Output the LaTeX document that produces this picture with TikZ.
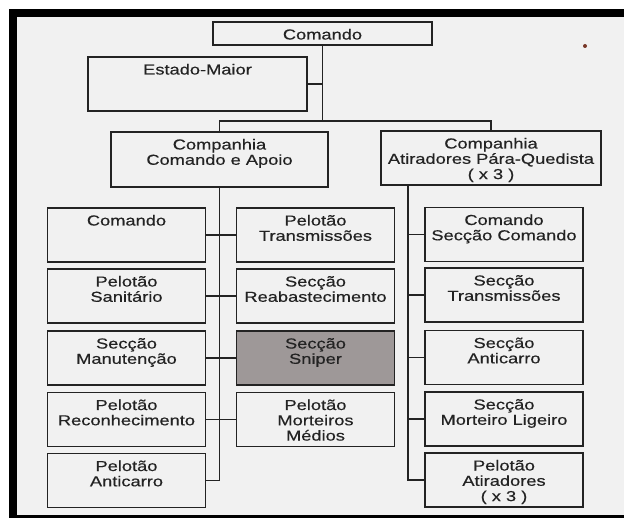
\documentclass[tikz,border=0pt]{standalone}
\usepackage{fontspec}
\setmainfont[FakeStretch=1.26,FakeBold=0.4]{Liberation Sans}
\definecolor{ink}{RGB}{35,35,35}
\definecolor{paper}{RGB}{241,241,241}
\definecolor{sniperfill}{RGB}{158,152,152}
\definecolor{dotred}{RGB}{120,55,40}
\newcommand{\orgtext}[5]{\parbox[c][#2][t]{#1}{\centering\fontsize{14.5pt}{#3}\selectfont\vspace*{#4}\rule{0pt}{11pt}#5}}
\newcommand{\rowtxt}[1]{\orgtext{158pt}{54pt}{15.3pt}{6.5pt}{#1}}
\newcommand{\toptxt}[3]{\orgtext{#1}{#2}{15.3pt}{6.5pt}{#3}}
\tikzset{
  orgbox/.style={draw=ink,line width=1.4pt,inner sep=0pt,outer sep=0pt,text=ink},
  link/.style={draw=ink,line width=1.2pt},
}
\begin{document}
\begin{tikzpicture}[x=1pt,y=-1pt]
\useasboundingbox (0,0) rectangle (624,518);
\fill[white] (0,0) rectangle (624,518);
\fill[paper] (17,17) rectangle (624,515);
\fill[black] (9,9) rectangle (624,17);
\fill[black] (9,9) rectangle (17,518);
\fill[black] (9,515) rectangle (624,518);
\fill[dotred] (585,46) circle (2pt);

% top levels
\node[orgbox] (cmd) at (322.5,33.5) {\toptxt{219pt}{23pt}{Comando}};
\node[orgbox] (em) at (197.5,84) {\toptxt{219pt}{54pt}{Estado-Maior}};
\node[orgbox] (cca) at (219.5,159.5) {\toptxt{217pt}{55pt}{Companhia\\Comando e Apoio}};
\node[orgbox] (cap) at (491,158) {\toptxt{220pt}{54pt}{Companhia\\Atiradores Pára-Quedista\\( x 3 )}};

% left column
\node[orgbox] (lc1) at (126.5,235) {\rowtxt{Comando}};
\node[orgbox] (lc2) at (126.5,296) {\rowtxt{Pelotão\\Sanitário}};
\node[orgbox] (lc3) at (126.5,358) {\rowtxt{Secção\\Manutenção}};
\node[orgbox] (lc4) at (126.5,419.5) {\rowtxt{Pelotão\\Reconhecimento}};
\node[orgbox] (lc5) at (126.5,480.5) {\rowtxt{Pelotão\\Anticarro}};
% middle column
\node[orgbox] (mc1) at (315.5,235) {\rowtxt{Pelotão\\Transmissões}};
\node[orgbox] (mc2) at (315.5,296) {\rowtxt{Secção\\Reabastecimento}};
\node[orgbox,fill=sniperfill] (mc3) at (315.5,358) {\rowtxt{Secção\\Sniper}};
\node[orgbox] (mc4) at (315.5,419.5) {\rowtxt{Pelotão\\Morteiros\\Médios}};
% right column
\node[orgbox] (rc1) at (504,234.5) {\rowtxt{Comando\\Secção Comando}};
\node[orgbox] (rc2) at (504,295) {\rowtxt{Secção\\Transmissões}};
\node[orgbox] (rc3) at (504,357.5) {\rowtxt{Secção\\Anticarro}};
\node[orgbox] (rc4) at (504,419) {\rowtxt{Secção\\Morteiro Ligeiro}};
\node[orgbox] (rc5) at (504,480) {\rowtxt{Pelotão\\Atiradores\\( x 3 )}};

% connectors
\coordinate (bar) at (322.5,121);
\draw[link] (cmd.south) -- (bar);
\draw[link] (em.east) -- (em.east -| cmd.south);
\draw[link] (cca.north) |- (bar) -| (cap.north);
\draw[link] (cca.south) |- (lc5.east);
\foreach \i in {1,2,3,4} {\draw[link] (lc\i.east) -- (mc\i.west);}
\coordinate (rt) at ([xshift=27pt]cap.south west);
\draw[link] (rt) |- (rc5.west);
\foreach \i in {1,2,3,4} {\draw[link] (rc\i.west) -- (rc\i.west -| rt);}
\end{tikzpicture}
\end{document}
